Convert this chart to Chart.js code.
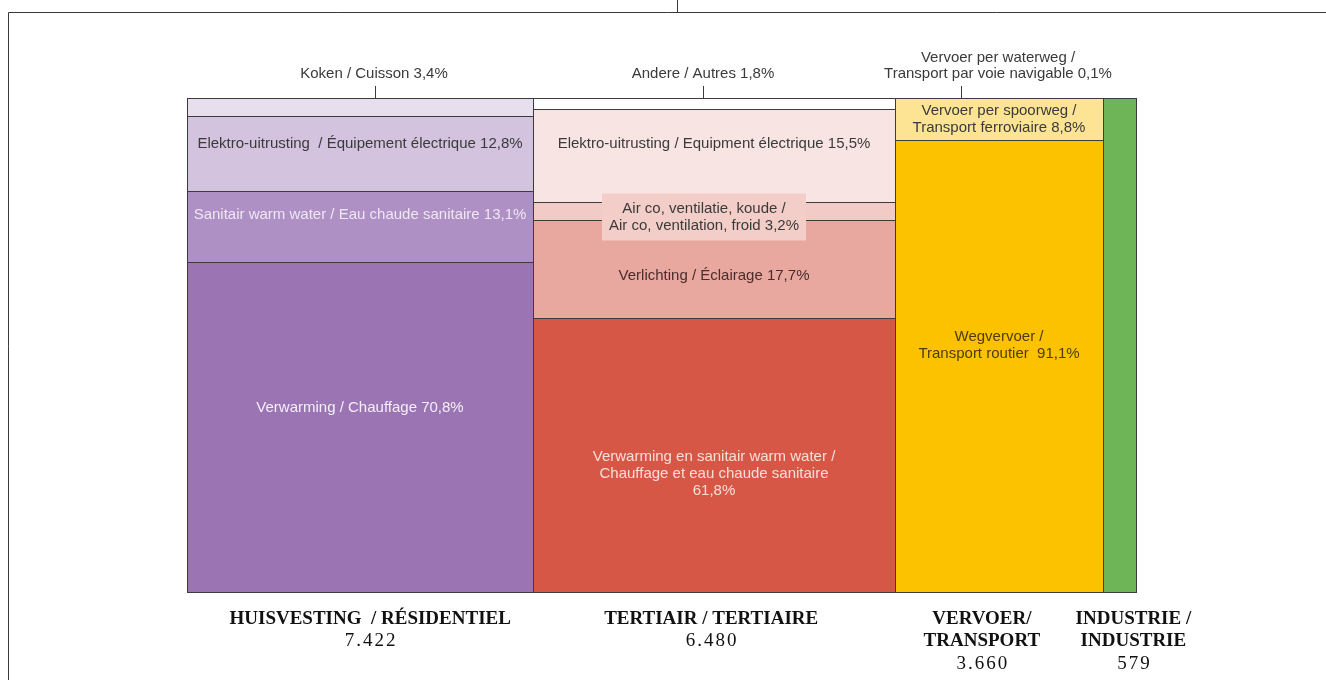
<!DOCTYPE html>
<html>
<head>
<meta charset="utf-8">
<script src="https://cdn.jsdelivr.net/npm/chart.js@4.4.1/dist/chart.umd.min.js"></script>
<style>
  html, body { margin: 0; padding: 0; background: #fff; }
  #wrap { width: 1326px; height: 680px; position: relative; }
</style>
</head>
<body>
<div id="wrap"><canvas id="mekko"></canvas></div>
<script>
// sectors (columns), width share of the axis as drawn, totals under each column
const sectors = [['HUISVESTING  / RÉSIDENTIEL'], ['TERTIAIR / TERTIAIRE'], ['VERVOER/', 'TRANSPORT'], ['INDUSTRIE /', 'INDUSTRIE']];
const sectorTotals = ['7.422', '6.480', '3.660', '579'];
const sectorWidths = [36.5, 38.1, 21.9, 3.5];

// segment heights as drawn (top to bottom, % of column)
const residentialShares = [3.6, 15.3, 14.2, 66.9];
const tertiaryShares = [2.3, 18.8, 3.6, 19.9, 55.4];
const transportShares = [0.1, 8.4, 91.5];
const industryShares = [100];

const residentialLabels = [
    ['Koken / Cuisson 3,4%'],
    ['Elektro-uitrusting  / Équipement électrique 12,8%'],
    ['Sanitair warm water / Eau chaude sanitaire 13,1%'],
    ['Verwarming / Chauffage 70,8%'],
];
const tertiaryLabels = [
    ['Andere / Autres 1,8%'],
    ['Elektro-uitrusting / Equipment électrique 15,5%'],
    ['Air co, ventilatie, koude /', 'Air co, ventilation, froid 3,2%'],
    ['Verlichting / Éclairage 17,7%'],
    ['Verwarming en sanitair warm water /', 'Chauffage et eau chaude sanitaire', '61,8%'],
];
const transportLabels = [
    ['Vervoer per waterweg /', 'Transport par voie navigable 0,1%'],
    ['Vervoer per spoorweg /', 'Transport ferroviaire 8,8%'],
    ['Wegvervoer /', 'Transport routier  91,1%'],
];
const industryLabels = [[]];

const residentialColors = ['#e7deee', '#d3c3df', '#ae90c5', '#9b74b3'];
const tertiaryColors = ['#ffffff', '#f8e5e3', '#f2cbc6', '#e8a89f', '#d75747'];
const transportColors = ['#fde495', '#fde495', '#fcc200'];
const industryColors = ['#6db556'];

// label style per segment: where it goes and its colour
// mode 'top' = above the plot with a leader line, otherwise inside (dy px from segment centre)
const residentialStyle = [
    { mode: 'top', dx: 14, lead: 15 },
    { dy: -10, color: '#3a3a3a' },
    { dy: -12, color: '#efe7f4' },
    { dy: -19, color: '#f4eff8' },
];
const tertiaryStyle = [
    { mode: 'top', dx: -11, lead: -11 },
    { dy: -12, color: '#3a3a3a' },
    { dy: 6, color: '#3a3a3a', box: '#f3cdc7' },
    { dy: 7, color: '#4a2c2c' },
    { dy: 19, color: '#f8ded8' },
];
const transportStyle = [
    { mode: 'top', dx: -1, lead: -38 },
    { dy: 0, color: '#3a3a3a' },
    { dy: -21, color: '#4e3c08' },
];
const industryStyle = [{}];

const columns = [
    { shares: residentialShares, labels: residentialLabels, colors: residentialColors, style: residentialStyle },
    { shares: tertiaryShares, labels: tertiaryLabels, colors: tertiaryColors, style: tertiaryStyle },
    { shares: transportShares, labels: transportLabels, colors: transportColors, style: transportStyle },
    { shares: industryShares, labels: industryLabels, colors: industryColors, style: industryStyle },
];

const labelFont = '15px "Liberation Sans", Arial, sans-serif';
const lineH = 17;

function drawLines(ctx, lines, cx, cy, lh) {
    const top = cy - (lines.length - 1) * lh / 2;
    lines.forEach((t, i) => ctx.fillText(t, cx, top + i * lh));
}

const mekkoPlugin = {
    id: 'mekko',
    beforeDraw(chart) {
        const ctx = chart.ctx;
        ctx.save();
        ctx.strokeStyle = '#3a3a3a';
        ctx.lineWidth = 1;
        ctx.beginPath();
        ctx.moveTo(8.5, chart.height);
        ctx.lineTo(8.5, 12.5);
        ctx.lineTo(chart.width, 12.5);
        ctx.moveTo(677.5, 0);
        ctx.lineTo(677.5, 12.5);
        ctx.stroke();
        ctx.restore();
    },
    afterDatasetsDraw(chart) {
        const { ctx, scales: { x, y } } = chart;
        ctx.save();
        let start = 0;
        const boxes = [];
        columns.forEach((col, ci) => {
            const end = start + sectorWidths[ci];
            const px0 = Math.round(x.getPixelForValue(start));
            const px1 = Math.round(x.getPixelForValue(end));
            let acc = 0;
            col.shares.forEach((s, si) => {
                const py0 = Math.round(y.getPixelForValue(acc));
                const py1 = Math.round(y.getPixelForValue(acc + s));
                ctx.fillStyle = col.colors[si];
                ctx.fillRect(px0, py0, px1 - px0, py1 - py0);
                ctx.strokeStyle = '#3c3c3c';
                ctx.lineWidth = 1;
                ctx.strokeRect(px0 + 0.5, py0 + 0.5, px1 - px0, py1 - py0);
                boxes.push({ ci, si, px0, px1, py0, py1 });
                acc += s;
            });
            start = end;
        });

        // labels
        ctx.font = labelFont;
        ctx.textAlign = 'center';
        ctx.textBaseline = 'middle';
        boxes.forEach(b => {
            const col = columns[b.ci];
            const lines = col.labels[b.si];
            const st = col.style[b.si];
            if (!lines || !lines.length) return;
            const cx = (b.px0 + b.px1) / 2;
            if (st.mode === 'top') {
                const lx = Math.round(cx + st.lead) + 0.5;
                ctx.strokeStyle = '#3c3c3c';
                ctx.beginPath();
                ctx.moveTo(lx, b.py0 - 12);
                ctx.lineTo(lx, b.py0);
                ctx.stroke();
                ctx.fillStyle = '#3a3a3a';
                const lastY = b.py0 - 24;
                drawLines(ctx, lines, cx + st.dx, lastY - (lines.length - 1) * 16.5 / 2, 16.5);
                return;
            }
            const cy = (b.py0 + b.py1) / 2 + st.dy;
            if (st.box) {
                const w = Math.max(...lines.map(t => ctx.measureText(t).width)) + 14;
                const h = lines.length * lineH + 13;
                ctx.fillStyle = st.box;
                ctx.fillRect(cx - 10 - w / 2, cy - h / 2, w, h);
            }
            ctx.fillStyle = st.color;
            drawLines(ctx, lines, st.box ? cx - 10 : cx, cy, lineH);
        });

        // sector names and totals under the columns
        const shift = [10, -3, -17, 14];
        start = 0;
        sectors.forEach((name, i) => {
            const end = start + sectorWidths[i];
            const cx = (x.getPixelForValue(start) + x.getPixelForValue(end)) / 2 + shift[i];
            let ty = y.bottom + 27;
            ctx.fillStyle = '#111';
            ctx.letterSpacing = '0px';
            ctx.font = 'bold 19px "Liberation Serif", "Times New Roman", serif';
            name.forEach(t => { ctx.fillText(t, cx, ty); ty += 22.5; });
            ctx.font = '19px "Liberation Serif", "Times New Roman", serif';
            ctx.letterSpacing = '2px';
            ctx.fillText(sectorTotals[i], cx + 1, ty);
            start = end;
        });
        ctx.restore();
    }
};

new Chart(document.getElementById('mekko').getContext('2d'), {
    type: 'bar',
    data: { labels: [], datasets: [] },
    options: {
        responsive: true,
        maintainAspectRatio: false,
        animation: false,
        layout: { padding: { left: 187, right: 190, top: 98, bottom: 88 } },
        scales: {
            x: { type: 'linear', min: 0, max: 100, offset: false, display: false },
            y: { type: 'linear', min: 0, max: 100, reverse: true, display: false },
        },
        plugins: {
            legend: { display: false },
            tooltip: { enabled: false },
        },
    },
    plugins: [mekkoPlugin],
});
</script>
</body>
</html>
